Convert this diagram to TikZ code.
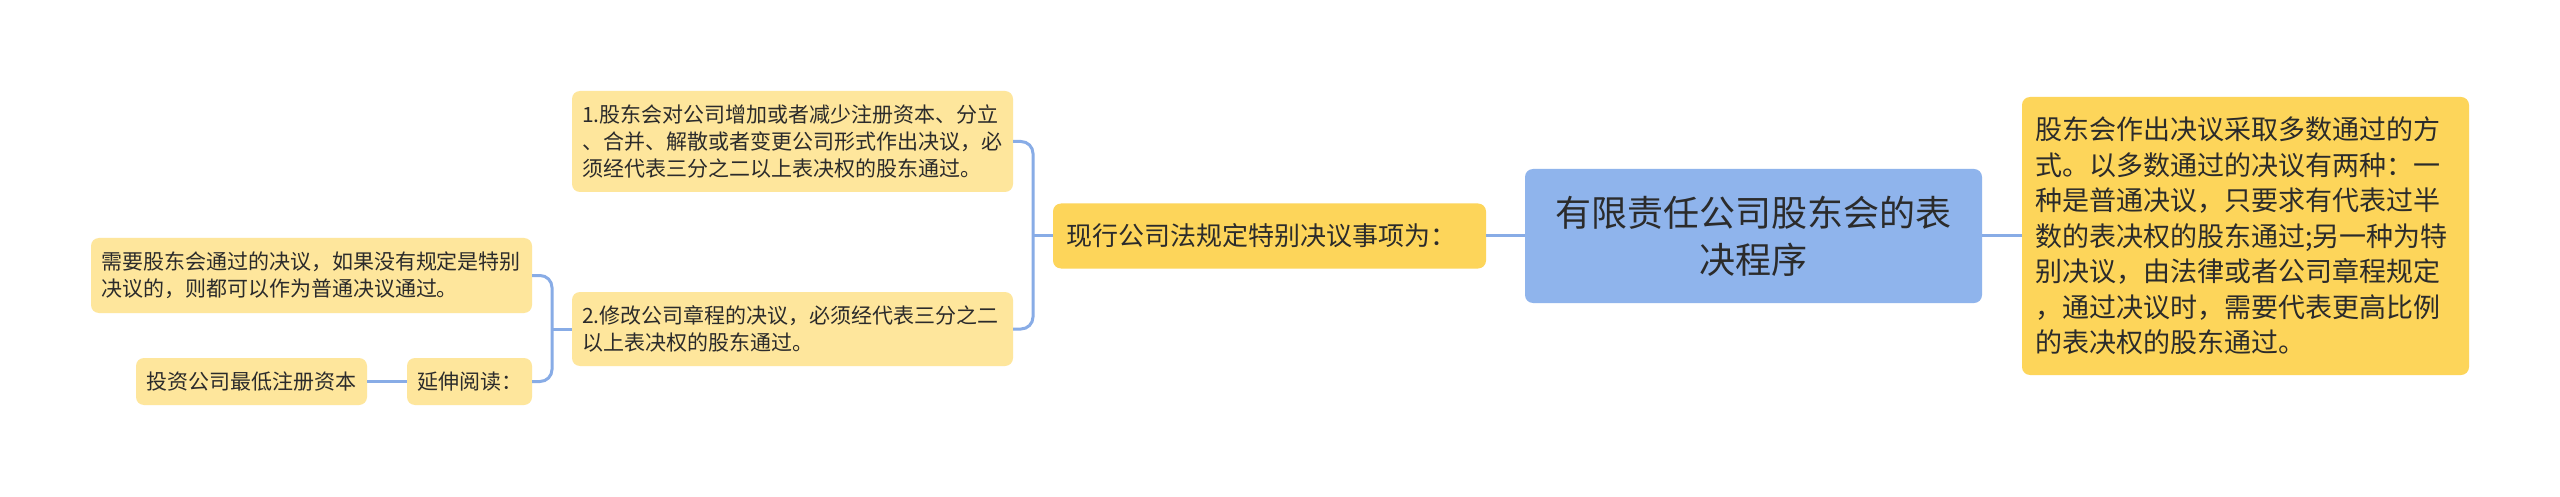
\documentclass[tikz,border=0pt]{standalone}
\usepackage{fontspec}
\newfontfamily\cjk{Noto Sans CJK SC}
\definecolor{linec}{HTML}{88ACE6}
\definecolor{bluef}{HTML}{8FB4EC}
\definecolor{goldf}{HTML}{FDD55A}
\definecolor{lightf}{HTML}{FEE69C}
\definecolor{textc}{HTML}{2B2B2B}
\begin{document}
\begin{tikzpicture}[x=1pt,y=-1pt,
  box/.style={rectangle, rounded corners=8pt, inner ysep=0pt, text=textc, anchor=center},
  lightbox/.style={box, fill=lightf, inner xsep=10pt, align=left, font=\cjk\fontsize{21pt}{27pt}\selectfont},
  goldbox/.style={box, fill=goldf, inner xsep=13pt, align=left},
  bluebox/.style={box, fill=bluef, inner xsep=10pt, align=center, font=\cjk\fontsize{36pt}{47pt}\selectfont},
  conn/.style={draw=linec, line width=3pt, rounded corners=12pt}]
\useasboundingbox (0,0) rectangle (2560,497);
\fill[white] (0,0) rectangle (2560,497);

% nodes
\node[bluebox, text width=437pt, minimum height=134pt] (root) at (1753.5,236) {有限责任公司股东会的表\\决程序};
\node[goldbox, text width=421pt, minimum height=278pt, font=\cjk\fontsize{27pt}{35.5pt}\selectfont] (right) at (2245.5,236)
  {股东会作出决议采取多数通过的方\\式。以多数通过的决议有两种：一\\种是普通决议，只要求有代表过半\\数的表决权的股东通过;另一种为特\\别决议，由法律或者公司章程规定\\，通过决议时，需要代表更高比例\\的表决权的股东通过。};
\node[goldbox, text width=407pt, minimum height=65pt, font=\cjk\fontsize{26pt}{32pt}\selectfont] (xian) at (1269.5,236) {现行公司法规定特别决议事项为：};
\node[lightbox, text width=421pt, minimum height=101pt] (n1) at (792.5,141.5)
  {1.股东会对公司增加或者减少注册资本、分立\\、合并、解散或者变更公司形式作出决议，必\\须经代表三分之二以上表决权的股东通过。};
\node[lightbox, text width=421pt, minimum height=74pt] (n2) at (792.5,329)
  {2.修改公司章程的决议，必须经代表三分之二\\以上表决权的股东通过。};
\node[lightbox, text width=421pt, minimum height=75pt] (need) at (311.5,275.5)
  {需要股东会通过的决议，如果没有规定是特别\\决议的，则都可以作为普通决议通过。};
\node[lightbox, text width=105pt, minimum height=47pt] (yan) at (469.5,381.5) {延伸阅读：};
\node[lightbox, text width=211pt, minimum height=47pt] (tou) at (251.5,381.5) {投资公司最低注册资本};

% junctions
\coordinate (j1) at (1033,236);
\coordinate (j2) at (552,329);

% connectors
\draw[conn] (root.west) -- (xian.east);
\draw[conn] (root.east) -- (right.west);
\draw[conn] (xian.west) -- (j1);
\draw[conn] (n1.east) -| (j1) |- (n2.east);
\draw[conn] (n2.west) -- (j2);
\draw[conn] (need.east) -| (j2) |- (yan.east);
\draw[conn] (yan.west) -- (tou.east);
\end{tikzpicture}
\end{document}
